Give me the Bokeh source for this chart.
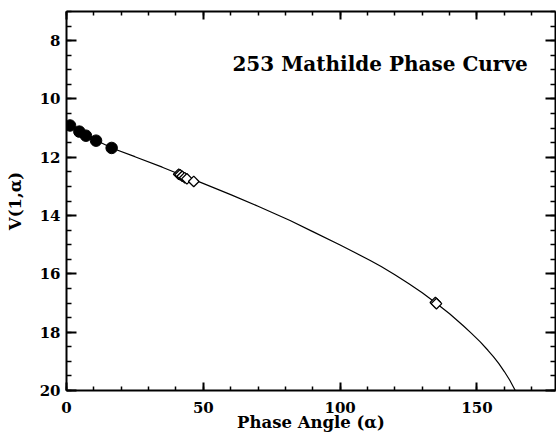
import numpy as np
from bokeh.plotting import figure
from bokeh.models import Range1d, LinearAxis, Label, CustomJSTickFormatter, FixedTicker
from bokeh.embed import file_html
from bokeh.resources import INLINE

# Filled circles (ground-based, low phase)
circ_alpha = [1.3, 4.7, 7.1, 10.8, 16.5]
circ_v = [10.91, 11.12, 11.26, 11.43, 11.68]

# Diamonds (spacecraft observations)
diam_alpha = [41.0, 41.5, 42.3, 43.2, 44.0, 46.5, 134.8, 135.2]
diam_v = [12.58, 12.60, 12.65, 12.70, 12.74, 12.83, 16.98, 17.02]

# Model phase curve
curve_alpha = [0, 5, 10, 17, 25, 35, 42, 49, 60, 70, 81.7, 90, 100, 105, 111,
               115, 120, 125, 130, 135, 140, 145, 148, 151.2, 154, 156, 158,
               160, 162, 164]
curve_v = [10.88, 11.12, 11.38, 11.70, 11.98, 12.34, 12.61, 12.86, 13.28, 13.68,
           14.17, 14.55, 15.01, 15.25, 15.54, 15.75, 16.03, 16.33, 16.65, 17.00,
           17.37, 17.78, 18.04, 18.33, 18.62, 18.84, 19.08, 19.35, 19.65, 20.0]

title = "253 Mathilde Phase Curve"
xlabel = "Phase Angle (\u03b1)"
ylabel = "V(1,\u03b1)"

FONT = "DejaVu Serif"

p = figure(width=556, height=438, output_backend="svg", toolbar_location=None,
           x_range=Range1d(0, 178.7), y_range=Range1d(20, 7),
           min_border_left=66, min_border_right=1, min_border_top=11,
           min_border_bottom=48)
p.grid.visible = False
p.outline_line_color = None
p.background_fill_color = "white"
p.border_fill_color = "white"

p.line(curve_alpha, curve_v, line_color="black", line_width=1.2)
p.scatter(circ_alpha, circ_v, marker="circle", size=11.5, fill_color="black",
          line_color="black")
p.scatter(diam_alpha, diam_v, marker="square", size=7.5, angle=np.pi / 4,
          fill_color="white", line_color="black", line_width=1.3)

xt = FixedTicker(ticks=[0, 50, 100, 150],
                 minor_ticks=[v for v in range(0, 181, 10)])
yt = FixedTicker(ticks=[8, 10, 12, 14, 16, 18, 20],
                 minor_ticks=[7 + 0.5 * i for i in range(27)])

def style(ax, major_in, minor_in):
    ax.axis_line_width = 2
    ax.axis_line_color = "black"
    ax.major_tick_in = major_in
    ax.major_tick_out = 0
    ax.minor_tick_in = minor_in
    ax.minor_tick_out = 0
    ax.major_tick_line_width = 2
    ax.minor_tick_line_width = 1.5
    ax.major_tick_line_color = "black"
    ax.minor_tick_line_color = "black"
    ax.major_label_text_font = FONT
    ax.major_label_text_font_style = "bold"
    ax.major_label_text_font_size = "15px"
    ax.major_label_text_color = "black"
    ax.axis_label_text_font = FONT
    ax.axis_label_text_font_style = "bold"
    ax.axis_label_text_font_size = "16.5px"
    ax.axis_label_text_color = "black"

xa = p.xaxis[0]
xa.ticker = xt
style(xa, 8, 4)
xa.axis_label = xlabel
xa.major_label_standoff = 11
xa.axis_label_standoff = -3

ya = p.yaxis[0]
ya.ticker = yt
style(ya, 10, 5)
ya.axis_label = ylabel
ya.major_label_standoff = 6
ya.axis_label_standoff = 12

blank = CustomJSTickFormatter(code="return ''")
top = LinearAxis(ticker=xt, formatter=blank)
style(top, 8, 4)
top.major_label_text_font_size = "0px"
top.major_label_standoff = 0
p.add_layout(top, "above")

right = LinearAxis(ticker=yt, formatter=blank)
style(right, 10, 5)
right.major_label_text_font_size = "0px"
right.major_label_standoff = 0
p.add_layout(right, "right")

p.add_layout(Label(x=114.6, y=8.8, text=title, text_align="center",
                   text_baseline="middle", text_font=FONT,
                   text_font_style="bold", text_font_size="20px",
                   text_color="black"))

open("out.html", "w").write(file_html(p, INLINE))
